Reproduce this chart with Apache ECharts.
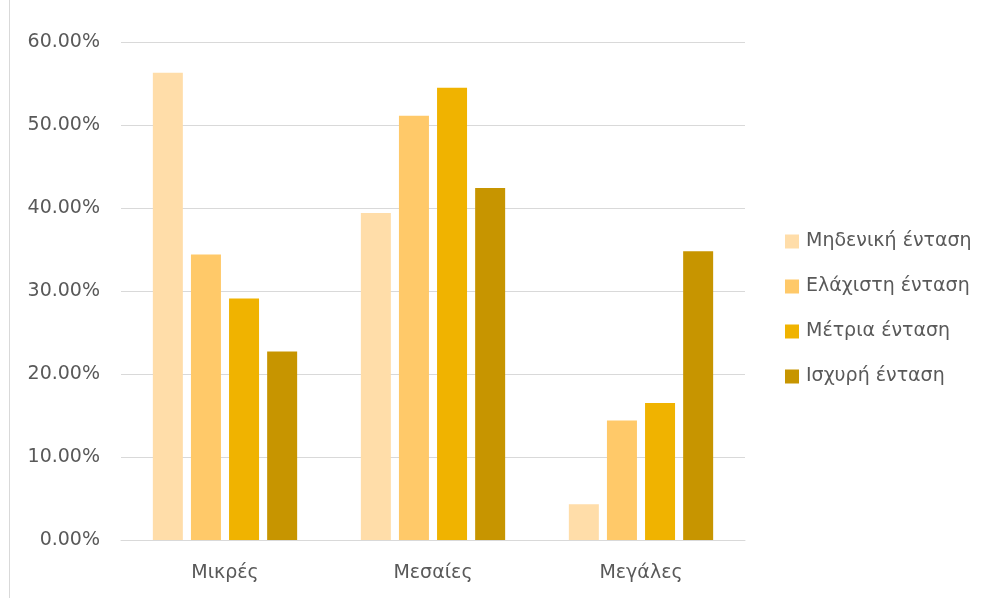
<!DOCTYPE html>
<html>
<head>
<meta charset="utf-8">
<script src="https://cdn.jsdelivr.net/npm/echarts@6/dist/echarts.min.js"></script>
<style>html,body{margin:0;padding:0;background:#fff}#c{width:1000px;height:598px}</style>
</head>
<body>
<div id="c"></div>
<script>
const categories = ['Μικρές', 'Μεσαίες', 'Μεγάλες'];
const seriesNames = ['Μηδενική ένταση', 'Ελάχιστη ένταση', 'Μέτρια ένταση', 'Ισχυρή ένταση'];
const mideniki = [56.3, 39.4, 4.3];
const elaxisti = [34.4, 51.1, 14.4];
const metria = [29.1, 54.5, 16.5];
const isxyri = [22.7, 42.4, 34.8];
const colors = ['#FFDDA9', '#FFC969', '#F0B300', '#C79500'];
const values = [mideniki, elaxisti, metria, isxyri];

const font = 'DejaVu Sans';
const chart = echarts.init(document.getElementById('c'), null, {renderer: 'canvas'});
chart.setOption({
  animation: false,
  textStyle: {fontFamily: font},
  graphic: [{
    type: 'line', shape: {x1: 9.5, y1: 0, x2: 9.5, y2: 598},
    style: {stroke: '#d9d9d9', lineWidth: 1}
  }],
  grid: {left: 121, right: 255, top: 42, bottom: 58, containLabel: false},
  legend: {
    orient: 'vertical', left: 785, top: 232, padding: 0,
    icon: 'rect', itemWidth: 14, itemHeight: 14, itemGap: 26,
    textStyle: {fontFamily: font, fontSize: 19, color: '#595959', lineHeight: 19, padding: [0, 0, 0, 2]},
    data: seriesNames
  },
  xAxis: {
    type: 'category', data: categories,
    axisLine: {lineStyle: {color: '#d9d9d9', width: 1}},
    axisTick: {show: false},
    axisLabel: {fontFamily: font, fontSize: 19, color: '#595959', margin: 24}
  },
  yAxis: {
    type: 'value', min: 0, max: 60, interval: 10,
    axisLine: {show: false}, axisTick: {show: false},
    splitLine: {lineStyle: {color: '#d9d9d9', width: 1}},
    axisLabel: {fontFamily: font, fontSize: 19, color: '#595959', margin: 21,
      formatter: v => v.toFixed(2) + '%'}
  },
  series: seriesNames.map((n, i) => ({
    name: n, type: 'bar', data: values[i],
    barWidth: 30, barGap: '27%',
    itemStyle: {color: colors[i]}
  }))
});
</script>
</body>
</html>
